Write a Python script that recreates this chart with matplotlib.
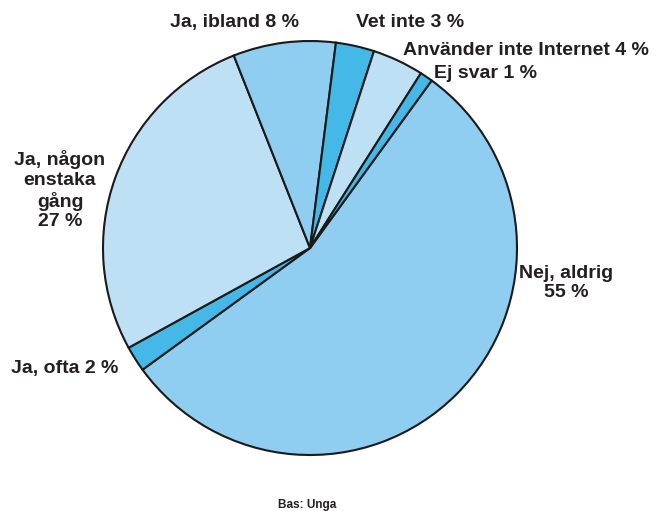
import matplotlib.pyplot as plt

labels = ["Nej, aldrig", "Ja, ofta", "Ja, någon enstaka gång", "Ja, ibland",
          "Vet inte", "Använder inte Internet", "Ej svar"]
values = [55, 2, 27, 8, 3, 4, 1]
colors = ["#8fcdf1", "#44b9e8", "#bee0f5", "#8fcdf1", "#44b9e8", "#bee0f5", "#44b9e8"]

W, H = 658, 511
fig = plt.figure(figsize=(W / 100, H / 100), dpi=100)
ax = fig.add_axes([0, 0, 1, 1])

# start at about 36 deg right of twelve o'clock, go clockwise
ax.pie(values, colors=colors, startangle=90 - 36, counterclock=False,
       center=(310, H - 248), radius=207, frame=True,
       wedgeprops=dict(edgecolor="#1a1a1a", linewidth=1.5))
ax.set_xlim(0, W)
ax.set_ylim(0, H)
ax.set_aspect("equal")
ax.axis("off")

txt = dict(fontsize=14, fontweight="bold", color="#231f20",
           family=["Liberation Sans", "DejaVu Sans"])

def lab(x, y, s, ha="center"):
    ax.text(x, H - y, s, ha=ha, va="center", linespacing=1.2, **txt)

lab(234, 22, "Ja, ibland 8 %")
lab(410, 22, "Vet inte 3 %")
lab(526, 50, "Använder inte Internet 4 %")
lab(486, 73, "Ej svar 1 %")
lab(60, 190, "Ja, någon\nenstaka\ngång\n27 %")
lab(65, 369, "Ja, ofta 2 %")
lab(566, 283, "Nej, aldrig\n55 %")

ax.text(307, H - 505, "Bas: Unga", ha="center", va="center", fontsize=8.5,
        fontweight="bold", color="#231f20", family=["Liberation Sans", "DejaVu Sans"])

fig.savefig("out.png", dpi=100)
